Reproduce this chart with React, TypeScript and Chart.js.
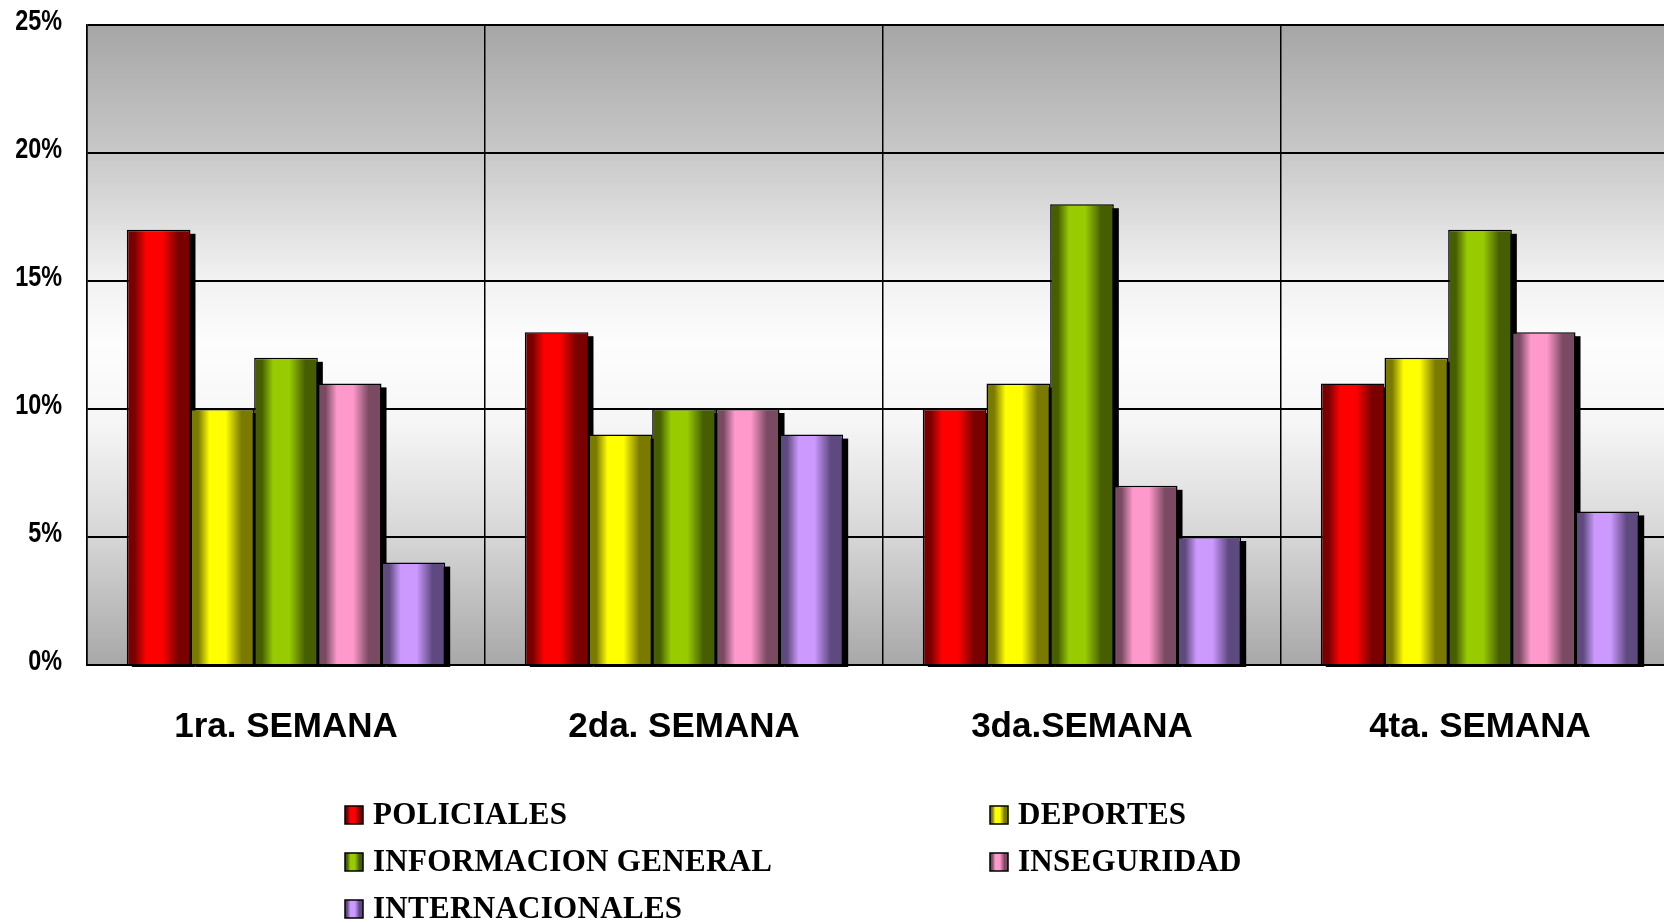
import React, { useEffect, useRef } from "react";
import { Chart, registerables } from "chart.js";

Chart.register(...registerables);

const categories = ["1ra. SEMANA", "2da. SEMANA", "3da.SEMANA", "4ta. SEMANA"];
const seriesNames = ["POLICIALES", "DEPORTES", "INFORMACION GENERAL", "INSEGURIDAD", "INTERNACIONALES"];
const policiales = [17, 13, 10, 11];
const deportes = [10, 9, 11, 12];
const informacionGeneral = [12, 10, 18, 17];
const inseguridad = [11, 10, 7, 13];
const internacionales = [4, 9, 5, 6];
const seriesValues = [policiales, deportes, informacionGeneral, inseguridad, internacionales];
const yTicks = [0, 5, 10, 15, 20, 25];

const brightColors = ["#ff0000", "#ffff00", "#99cc00", "#ff99cc", "#cc99ff"];
const darkColors = ["#7a0000", "#7a7a00", "#465e00", "#7a4a62", "#5e4a7e"];

function cylGradient(ctx: CanvasRenderingContext2D, x0: number, x1: number, i: number) {
  const g = ctx.createLinearGradient(x0, 0, x1, 0);
  g.addColorStop(0, darkColors[i]);
  g.addColorStop(0.12, darkColors[i]);
  g.addColorStop(0.3, brightColors[i]);
  g.addColorStop(0.55, brightColors[i]);
  g.addColorStop(0.8, darkColors[i]);
  g.addColorStop(1, darkColors[i]);
  return g;
}

const backgroundPlugin = {
  id: "bgGradient",
  beforeDraw(chart: any) {
    const { ctx, chartArea } = chart;
    const g = ctx.createLinearGradient(0, chartArea.top, 0, chartArea.bottom);
    g.addColorStop(0, "#a6a6a6");
    g.addColorStop(0.2, "#c8c8c8");
    g.addColorStop(0.4, "#f2f2f2");
    g.addColorStop(0.5, "#fdfdfd");
    g.addColorStop(0.62, "#f6f6f6");
    g.addColorStop(0.8, "#d6d6d6");
    g.addColorStop(1, "#a8a8a8");
    ctx.save();
    ctx.fillStyle = g;
    ctx.fillRect(chartArea.left, chartArea.top, chartArea.right - chartArea.left, chartArea.bottom - chartArea.top);
    ctx.restore();
  },
};

const barStylePlugin = {
  id: "barStyle",
  beforeDatasetsDraw(chart: any) {
    const { ctx } = chart;
    ctx.save();
    ctx.fillStyle = "#000000";
    chart.data.datasets.forEach((_: any, di: number) => {
      const meta = chart.getDatasetMeta(di);
      meta.data.forEach((el: any) => {
        const left = el.x - el.width / 2;
        ctx.fillRect(left + 5, el.y + 4, el.width, el.base - el.y - 1);
      });
    });
    ctx.restore();
    chart.data.datasets.forEach((_: any, di: number) => {
      const meta = chart.getDatasetMeta(di);
      meta.data.forEach((el: any) => {
        const left = el.x - el.width / 2;
        const grad = cylGradient(ctx, left, left + el.width, di);
        el.options = { ...el.options, backgroundColor: grad };
      });
    });
  },
};

const yLabelPlugin = {
  id: "yLabels",
  afterDraw(chart: any) {
    const { ctx } = chart;
    const ys = chart.scales.y;
    ctx.save();
    ctx.font = "bold 30px 'Liberation Sans', Arial, sans-serif";
    ctx.fillStyle = "#000000";
    ctx.textAlign = "right";
    ctx.textBaseline = "middle";
    yTicks.forEach((v) => {
      const y = ys.getPixelForValue(v);
      ctx.save();
      ctx.translate(ys.right - 25, y - 3);
      ctx.scale(0.78, 1);
      ctx.fillText(v + "%", 0, 0);
      ctx.restore();
    });
    ctx.restore();
  },
};

const legendPlugin = {
  id: "customLegend",
  afterDraw(chart: any) {
    const { ctx } = chart;
    const colX = [345, 990];
    const rowY = [815, 862, 909];
    ctx.save();
    ctx.font = "bold 31px 'Liberation Serif', 'Times New Roman', serif";
    (ctx as any).letterSpacing = "0.3px";
    ctx.textBaseline = "middle";
    ctx.textAlign = "left";
    seriesNames.forEach((name, i) => {
      const x = colX[i % 2];
      const y = rowY[Math.floor(i / 2)];
      const s = 18;
      ctx.fillStyle = cylGradient(ctx, x, x + s, i);
      ctx.fillRect(x, y - s / 2, s, s);
      ctx.strokeStyle = "#000000";
      ctx.lineWidth = 1.5;
      ctx.strokeRect(x, y - s / 2, s, s);
      ctx.fillStyle = "#000000";
      ctx.fillText(name, x + 28, y + 1);
    });
    ctx.restore();
  },
};

export default function App() {
  const canvasRef = useRef<HTMLCanvasElement>(null);
  useEffect(() => {
    if (!canvasRef.current) return;
    const chart = new Chart(canvasRef.current, {
      type: "bar",
      data: {
        labels: categories,
        datasets: seriesNames.map((name, i) => ({
          label: name,
          data: seriesValues[i],
          backgroundColor: brightColors[i],
          borderColor: "#000000",
          borderWidth: 1.5,
          categoryPercentage: 0.8,
          barPercentage: 1.0,
        })),
      },
      options: {
        responsive: false,
        animation: false,
        devicePixelRatio: 1,
        layout: { padding: { top: 25, right: 21, left: 0, bottom: 0 } },
        plugins: {
          legend: { display: false },
          tooltip: { enabled: false },
        },
        scales: {
          x: {
            grid: { color: "#000000", lineWidth: 1.5, drawTicks: false, offset: true },
            border: { color: "#000000", width: 2 },
            ticks: {
              color: "#000000",
              padding: 41,
              font: { family: "'Liberation Sans', Arial, sans-serif", size: 35, weight: "bold" },
              maxRotation: 0,
            },
            afterFit(scale: any) {
              scale.height = 258;
            },
          },
          y: {
            min: 0,
            max: 25,
            afterBuildTicks(scale: any) {
              scale.ticks = yTicks.map((v) => ({ value: v }));
            },
            grid: { color: "#000000", lineWidth: 2, drawTicks: false },
            border: { color: "#000000", width: 1.5 },
            ticks: { display: false },
            afterFit(scale: any) {
              scale.width = 87;
            },
          },
        },
      },
      plugins: [backgroundPlugin, barStylePlugin, yLabelPlugin, legendPlugin],
    });
    return () => chart.destroy();
  }, []);

  return (
    <div style={{ position: "fixed", left: 0, top: 0, width: 1664, height: 923, overflow: "hidden", background: "#ffffff" }}>
      <canvas ref={canvasRef} width={1700} height={923} style={{ display: "block" }} />
    </div>
  );
}
